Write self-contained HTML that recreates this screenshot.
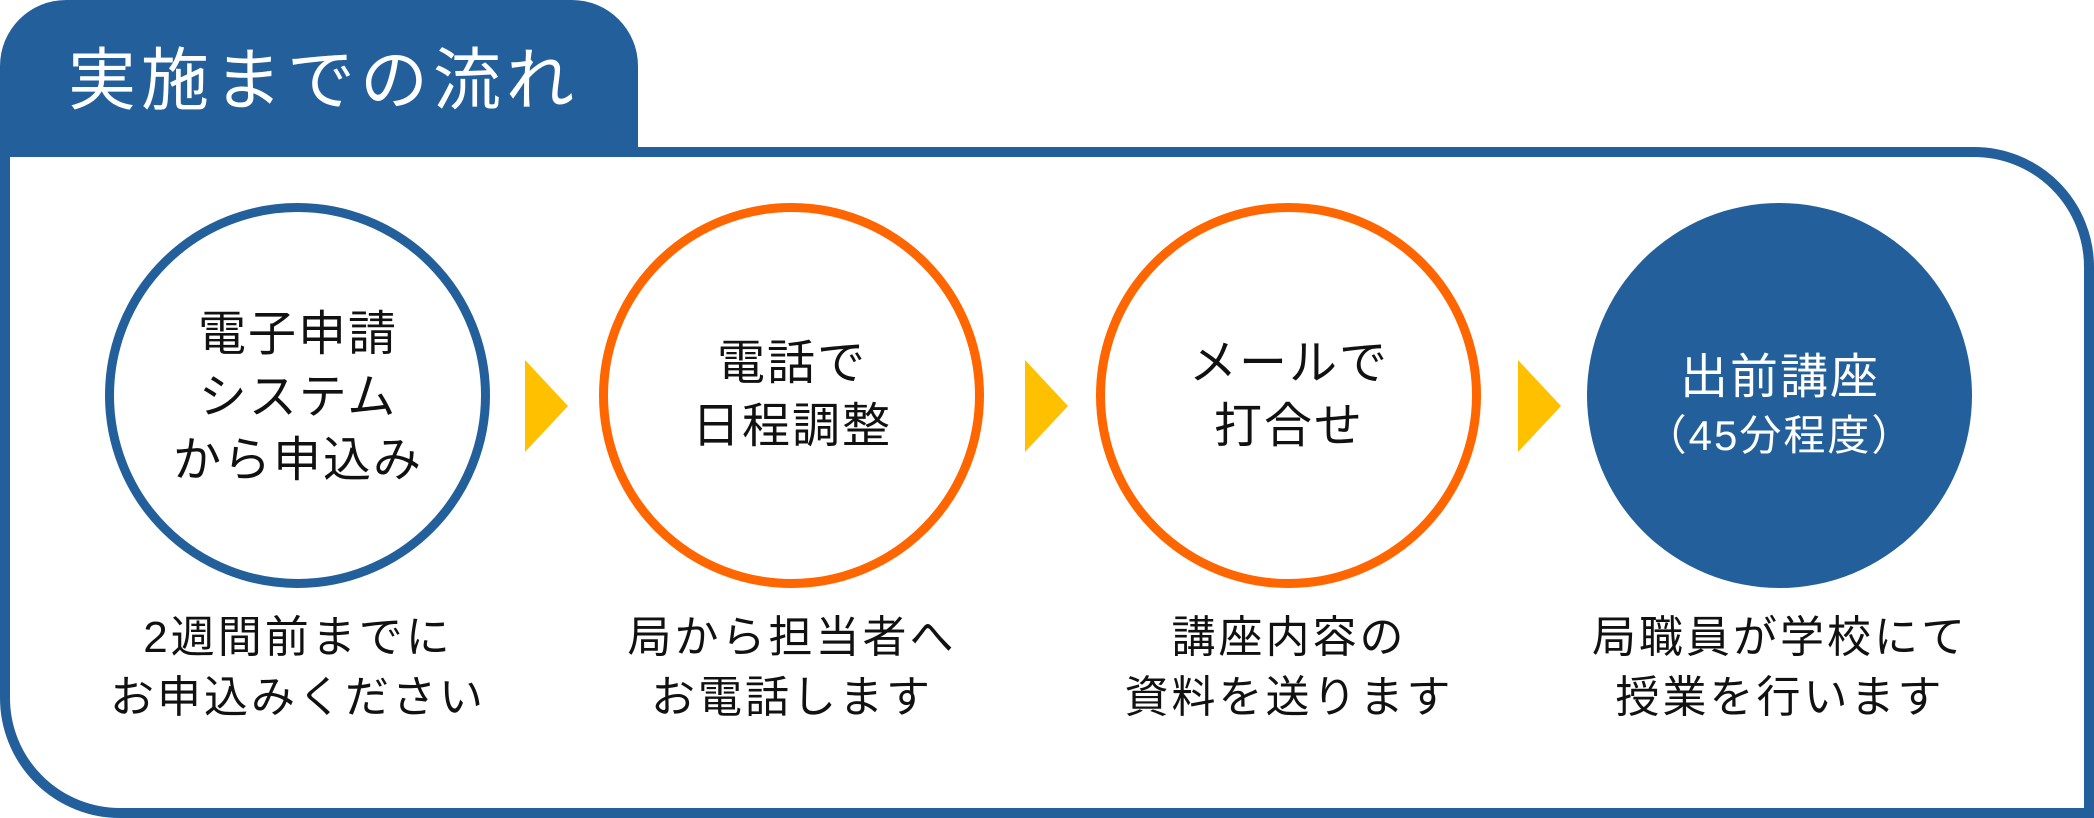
<!DOCTYPE html>
<html><head><meta charset="utf-8"><style>
html,body{margin:0;padding:0;background:#fff}
body{width:2094px;height:818px;position:relative;overflow:hidden;font-family:"Liberation Sans","Noto Sans CJK JP",sans-serif}
.tab{position:absolute;left:0;top:0;width:638px;height:160px;background:#23609b;border-radius:66px 66px 0 0}
.title{position:absolute;left:68px;top:36px;font-size:68px;letter-spacing:5px;color:#fff;line-height:90px;white-space:nowrap}
.box{position:absolute;left:0;top:147px;width:2094px;height:671px;box-sizing:border-box;border:10px solid #23609b;border-radius:0 120px 0 120px;background:#fff}
.c{position:absolute;top:203px;width:385px;height:385px;box-sizing:border-box;border-radius:50%;border:9px solid #23609b;background:#fff}
.o{border-color:#ff6600}
.f{background:#23609b}
.t{position:absolute;width:600px;text-align:center;font-size:48px;letter-spacing:2px;line-height:63px;color:#111;white-space:nowrap}
.b{position:absolute;width:600px;text-align:center;font-size:44px;letter-spacing:3px;line-height:60px;color:#111;top:608px;white-space:nowrap}
.ar{position:absolute;top:360px;width:0;height:0;border-top:46px solid transparent;border-bottom:46px solid transparent;border-left:43px solid #ffc000}
</style></head><body>
<div class="tab"></div>
<div class="title">実施までの流れ</div>
<div class="box"></div>

<div class="c" style="left:105px"></div>
<div class="c o" style="left:599px"></div>
<div class="c o" style="left:1096px"></div>
<div class="c f" style="left:1587px;border:none"></div>

<div class="ar" style="left:525px"></div>
<div class="ar" style="left:1025px"></div>
<div class="ar" style="left:1518px"></div>

<div class="t" style="left:-2px;top:303px">電子申請<br>システム<br>から申込み</div>
<div class="t" style="left:492px;top:332px">電話で<br>日程調整</div>
<div class="t" style="left:989px;top:332px">メールで<br>打合せ</div>
<div class="t" style="left:1480px;top:346px;color:#fff">出前講座</div>
<div class="t" style="left:1480px;top:404px;color:#fff;font-size:42px">（45分程度）</div>

<div class="b" style="left:-2px">2週間前までに<br>お申込みください</div>
<div class="b" style="left:492px">局から担当者へ<br>お電話します</div>
<div class="b" style="left:989px">講座内容の<br>資料を送ります</div>
<div class="b" style="left:1480px">局職員が学校にて<br>授業を行います</div>
</body></html>
